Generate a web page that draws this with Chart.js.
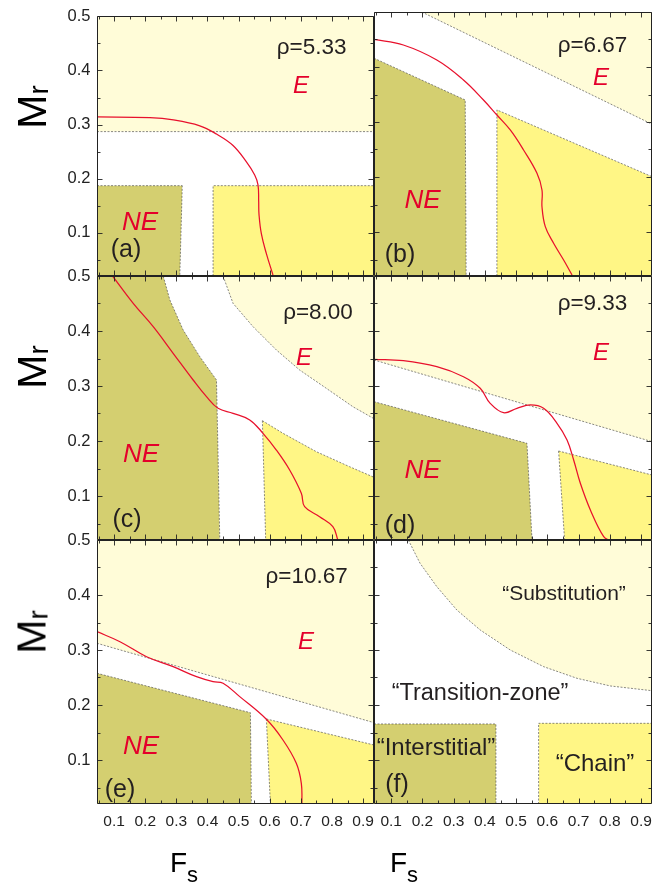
<!DOCTYPE html>
<html><head><meta charset="utf-8">
<script src="https://cdn.jsdelivr.net/npm/chart.js@4/dist/chart.umd.min.js"></script>
<style>
html,body{margin:0;padding:0;background:#fff;}
body{width:669px;height:887px;position:relative;overflow:hidden;font-family:"Liberation Sans",Arial,sans-serif;}
canvas{position:absolute;}
.t{position:absolute;white-space:nowrap;line-height:1;transform:translate(-50%,-50%);color:#231f20;}
.r{color:#e4002b;font-style:italic;}
</style></head><body>
<script>
// ---------- axes ----------
const X_MIN = 0.045, X_MAX = 0.935, Y_MIN = 0.02, Y_MAX = 0.5;
const xMajor = [0.1,0.2,0.3,0.4,0.5,0.6,0.7,0.8,0.9];
const xTickLabels = ['0.1','0.2','0.3','0.4','0.5','0.6','0.7','0.8','0.9'];
const xMinor = [0.05,0.15,0.25,0.35,0.45,0.55,0.65,0.75,0.85];
const yMajor = [0.1,0.2,0.3,0.4,0.5];
const yTickLabels = ['0.1','0.2','0.3','0.4','0.5'];
const yMinor = [0.05,0.15,0.25,0.35,0.45];

// ---------- (a) rho = 5.33 ----------
const a_E = [[0.045,0.287],[0.935,0.287]];
const a_NE_top = [[0.045,0.187],[0.319,0.187]];
const a_NE_bottom = [[0.045,0.02],[0.311,0.02],[0.319,0.187]];
const a_chain = [[0.418,0.02],[0.418,0.187],[0.935,0.187]];
const a_curve = [[0.045,0.314],[0.215,0.3127],[0.2906,0.3086],[0.3753,0.2977],[0.4289,0.2824],[0.4821,0.2613],[0.5251,0.2309],[0.5517,0.2068],[0.5623,0.1886],[0.5645,0.1582],[0.5655,0.134],[0.5732,0.0977],[0.5892,0.0613],[0.6104,0.0219]];

// ---------- (b) rho = 6.67 ----------
const b_E = [[0.198,0.5],[0.935,0.296]];
const b_NE = [[0.045,0.416],[0.337,0.340],[0.340,0.02]];
const b_chain = [[0.4385,0.02],[0.4385,0.322],[0.935,0.2006]];
const b_curve = [[0.045,0.4503],[0.139,0.44],[0.2461,0.4127],[0.3314,0.3764],[0.3955,0.34],[0.4385,0.3127],[0.4812,0.2855],[0.5238,0.2491],[0.5668,0.2067],[0.5828,0.1764],[0.5828,0.146],[0.5934,0.1097],[0.62,0.0795],[0.6521,0.0491],[0.679,0.0219]];

// ---------- (c) rho = 8.00 ----------
const c_E = [[0.45,0.5],[0.4821,0.4503],[0.5463,0.4079],[0.6213,0.3655],[0.696,0.3291],[0.7817,0.2958],[0.867,0.2624],[0.935,0.2405]];
const c_NE = [[0.045,0.5],[0.2577,0.5],[0.2791,0.4564],[0.3218,0.4018],[0.3753,0.3533],[0.4289,0.3109],[0.4395,0.02]];
const c_chain_top = [[0.5764,0.2369],[0.6425,0.214],[0.7496,0.1806],[0.8564,0.1533],[0.935,0.134]];
const c_chain_bottom = [[0.5764,0.2369],[0.587,0.02],[0.935,0.02]];
const c_curve = [[0.095,0.5],[0.1614,0.4503],[0.2256,0.4079],[0.2897,0.3595],[0.3539,0.3109],[0.3968,0.2806],[0.434,0.2594],[0.4821,0.2503],[0.5357,0.2382],[0.5783,0.214],[0.6213,0.1836],[0.664,0.1473],[0.7015,0.1049],[0.7121,0.0806],[0.7602,0.0624],[0.8028,0.0442],[0.8189,0.02]];

// ---------- (d) rho = 9.33 ----------
const d_E = [[0.045,0.3473],[0.935,0.1988]];
const d_NE = [[0.045,0.2715],[0.5347,0.1958],[0.5508,0.02]];
const d_chain_top = [[0.636,0.1818],[0.935,0.1382]];
const d_chain_bottom = [[0.636,0.1818],[0.6552,0.02],[0.935,0.02]];
const d_curve = [[0.045,0.3485],[0.139,0.346],[0.2461,0.3351],[0.3314,0.3169],[0.385,0.2958],[0.417,0.2685],[0.4597,0.2515],[0.5026,0.2594],[0.5453,0.2655],[0.5879,0.2594],[0.6309,0.2322],[0.663,0.2018],[0.6842,0.1655],[0.7056,0.1231],[0.7377,0.0746],[0.7804,0.026],[0.8019,0.018]];

// ---------- (e) rho = 10.67 ----------
const e_E = [[0.045,0.3122],[0.935,0.1679]];
const e_NE = [[0.045,0.2577],[0.5379,0.186],[0.5411,0.02]];
const e_chain_top = [[0.5892,0.1746],[0.935,0.1273]];
const e_chain_bottom = [[0.5892,0.1746],[0.6021,0.02],[0.935,0.02]];
const e_curve = [[0.045,0.3333],[0.1188,0.3151],[0.2044,0.2878],[0.2897,0.2697],[0.3647,0.2515],[0.418,0.2424],[0.4501,0.2394],[0.5036,0.2152],[0.5892,0.174],[0.6425,0.1364],[0.6854,0.094],[0.7015,0.0576],[0.7034,0.018]];

// ---------- (f) schematic ----------
const f_sub = [[0.155,0.5],[0.1925,0.4576],[0.2461,0.4151],[0.3102,0.3727],[0.385,0.3364],[0.4812,0.30],[0.588,0.2697],[0.695,0.2485],[0.8018,0.2346],[0.935,0.226]];
const f_inter = [[0.045,0.1655],[0.4353,0.1655],[0.4353,0.02]];
const f_chain = [[0.572,0.02],[0.572,0.1667],[0.935,0.1667]];

// ---------- styles ----------
const COL_E = '#FFFCD8', COL_NE = '#D4CF70', COL_CH = '#FFF685';
const EDGE = 'rgba(80,80,80,0.85)', RED = '#e8102c';

Chart.defaults.font.family = "'Liberation Sans', Arial, sans-serif";

const pts = a => a.map(p => ({x:p[0], y:p[1]}));
function edgeDS(arr, fill, color){
  return {data: pts(arr), showLine:true, fill: fill, backgroundColor: color || 'transparent',
    borderColor: EDGE, borderWidth: 0.8, borderDash:[2,1.5], pointRadius:0, pointHoverRadius:0, tension:0, order:2};
}
function curveDS(arr){
  return {data: pts(arr), showLine:true, fill:false, borderColor: RED, borderWidth:1.25,
    pointRadius:0, pointHoverRadius:0, tension:0.4, order:0};
}
function build(list){
  const ds = [];
  list.forEach(it => {
    if (it.curve) ds.push(curveDS(it.curve));
    else if (it.pair) { ds.push(edgeDS(it.pair[1], false)); ds.push(edgeDS(it.pair[0], ds.length-1, it.color)); }
    else ds.push(edgeDS(it.line, it.fill, it.color));
  });
  return ds;
}
function lbl(v, majors, labels){
  const i = majors.findIndex(m => Math.abs(m - v) < 1e-6);
  return i >= 0 ? labels[i] : '';
}
function axis(kind, pos, labels, size){
  const isX = kind === 'x';
  const majors = isX ? xMajor : yMajor, minors = isX ? xMinor : yMinor;
  const labs = isX ? xTickLabels : yTickLabels;
  return {
    type:'linear', position: pos,
    min: isX ? X_MIN : Y_MIN, max: isX ? X_MAX : Y_MAX,
    afterBuildTicks: s => { s.ticks = majors.concat(minors).sort((p,q)=>p-q).map(v => ({value:v})); },
    afterFit: s => { if (isX) s.height = size; else s.width = size; },
    ticks: {display: labels, autoSkip:false, maxRotation:0, minRotation:0,
      padding: isX ? 8 : 6.5, color:'#222', font:{size: isX ? 15.5 : 16.5},
      callback: v => lbl(v, majors, labs)},
    grid: {display:false, drawOnChartArea:false, drawTicks:false},
    border: {display:false}
  };
}
// frame + inward tick marks, positioned through the chart's own scales
const frameTicks = {
  id:'frameTicks',
  afterDraw(chart){
    const {ctx, chartArea:a, scales:{x, y}} = chart;
    ctx.save();
    ctx.strokeStyle = '#222'; ctx.lineWidth = 1;
    const L = Math.round(a.left)+0.5, R = Math.round(a.right)-0.5, T = Math.round(a.top)+0.5, B = Math.round(a.bottom)-0.5;
    ctx.beginPath(); ctx.rect(L, T, R-L, B-T); ctx.stroke();
    ctx.beginPath();
    xMajor.concat(xMinor).forEach(v => {
      const p = Math.round(x.getPixelForValue(v))+0.5, len = xMajor.includes(v) ? 5 : 3;
      ctx.moveTo(p, B); ctx.lineTo(p, B-len); ctx.moveTo(p, T); ctx.lineTo(p, T+len);
    });
    yMajor.concat(yMinor).forEach(v => {
      const p = Math.round(y.getPixelForValue(v))+0.5, len = yMajor.includes(v) ? 5 : 3;
      ctx.moveTo(L, p); ctx.lineTo(L+len, p); ctx.moveTo(R, p); ctx.lineTo(R-len, p);
    });
    ctx.lineWidth = 0.9; ctx.stroke();
    ctx.restore();
  }
};
function panel(left, top, w, h, pad, showX, showY, datasets){
  const c = document.createElement('canvas');
  const W = w + pad.l + pad.r, H = h + pad.t + pad.b;
  c.width = W; c.height = H;
  c.style.left = (left - pad.l) + 'px'; c.style.top = (top - pad.t) + 'px';
  c.style.width = W + 'px'; c.style.height = H + 'px';
  document.body.appendChild(c);
  new Chart(c, {
    type:'scatter',
    data:{datasets},
    options:{
      responsive:false, animation:false, devicePixelRatio:1, events:[],
      layout:{padding:{top:pad.t, right:pad.r, left:0, bottom:0}},
      plugins:{legend:{display:false}, tooltip:{enabled:false}},
      scales:{ x: axis('x','bottom', showX, pad.b), y: axis('y','left', showY, pad.l) }
    },
    plugins:[frameTicks]
  });
}

const LX = 97, LW = 277, RX = 374, RW = 278, PH = 264;
const ROWS = [12, 276, 540];
const padL = {l:97, r:24}, padR = {l:24, r:17};

panel(LX, ROWS[0], LW, PH, {...padL, t:12, b:24}, false, true, build([
  {line:a_E, fill:'end', color:COL_E},
  {pair:[a_NE_top, a_NE_bottom], color:COL_NE},
  {line:a_chain, fill:'start', color:COL_CH},
  {curve:a_curve}]));
panel(RX, ROWS[0], RW, PH, {...padR, t:12, b:24}, false, false, build([
  {line:b_E, fill:'end', color:COL_E},
  {line:b_NE, fill:'start', color:COL_NE},
  {line:b_chain, fill:'start', color:COL_CH},
  {curve:b_curve}]));
panel(LX, ROWS[1], LW, PH, {...padL, t:24, b:24}, false, true, build([
  {line:c_E, fill:'end', color:COL_E},
  {line:c_NE, fill:'start', color:COL_NE},
  {pair:[c_chain_top, c_chain_bottom], color:COL_CH},
  {curve:c_curve}]));
panel(RX, ROWS[1], RW, PH, {...padR, t:24, b:24}, false, false, build([
  {line:d_E, fill:'end', color:COL_E},
  {line:d_NE, fill:'start', color:COL_NE},
  {pair:[d_chain_top, d_chain_bottom], color:COL_CH},
  {curve:d_curve}]));
panel(LX, ROWS[2], LW, PH, {...padL, t:24, b:44}, true, true, build([
  {line:e_E, fill:'end', color:COL_E},
  {line:e_NE, fill:'start', color:COL_NE},
  {pair:[e_chain_top, e_chain_bottom], color:COL_CH},
  {curve:e_curve}]));
panel(RX, ROWS[2], RW, PH, {...padR, t:24, b:44}, true, false, build([
  {line:f_sub, fill:'end', color:COL_E},
  {line:f_inter, fill:'start', color:COL_NE},
  {line:f_chain, fill:'start', color:COL_CH}]));

// ---------- text annotations ----------
const notes = [
  ['ρ=5.33', 311.7, 47, 22.5, ''], ['E', 301, 85, 24, 'r'], ['NE', 140, 221, 26, 'r'], ['(a)', 126, 247.5, 25, ''],
  ['ρ=6.67', 592.5, 45, 22.5, ''], ['E', 601, 77, 24, 'r'], ['NE', 422.5, 199, 26, 'r'], ['(b)', 400, 252.5, 25, ''],
  ['ρ=8.00', 318, 312, 22.5, ''], ['E', 304, 357, 24, 'r'], ['NE', 141, 453, 26, 'r'], ['(c)', 127, 517.5, 25, ''],
  ['ρ=9.33', 592.5, 303, 22.5, ''], ['E', 601, 352, 24, 'r'], ['NE', 422.5, 469, 26, 'r'], ['(d)', 400, 523.5, 25, ''],
  ['ρ=10.67', 306.7, 576, 22.5, ''], ['E', 306, 641, 24, 'r'], ['NE', 141, 745, 26, 'r'], ['(e)', 120, 787.5, 25, ''],
  ['“Substitution”', 564, 592, 21, ''], ['“Transition-zone”', 480, 693, 23.5, ''],
  ['“Interstitial”', 436, 747, 24, ''], ['“Chain”', 595, 763, 24, ''], ['(f)', 397, 782.5, 25, '']
];
notes.forEach(n => {
  const d = document.createElement('div');
  d.className = 't ' + n[4];
  d.textContent = n[0];
  d.style.left = n[1] + 'px'; d.style.top = n[2] + 'px'; d.style.fontSize = n[3] + 'px';
  document.body.appendChild(d);
});
// axis titles
[106.5, 367, 631.5].forEach(cy => {
  const d = document.createElement('div');
  d.className = 't';
  d.style.cssText = 'left:32px;top:' + cy + 'px;font-size:41px;color:#000;transform:translate(-50%,-50%) rotate(-90deg);';
  d.innerHTML = 'M<span style="font-size:28px;position:relative;top:2px">r</span>';
  document.body.appendChild(d);
});
[184, 404].forEach(cx => {
  const d = document.createElement('div');
  d.className = 't';
  d.style.cssText = 'left:' + cx + 'px;top:863px;font-size:28px;color:#000;';
  d.innerHTML = 'F<span style="font-size:22px;position:relative;top:10px">s</span>';
  document.body.appendChild(d);
});
</script>
</body></html>
